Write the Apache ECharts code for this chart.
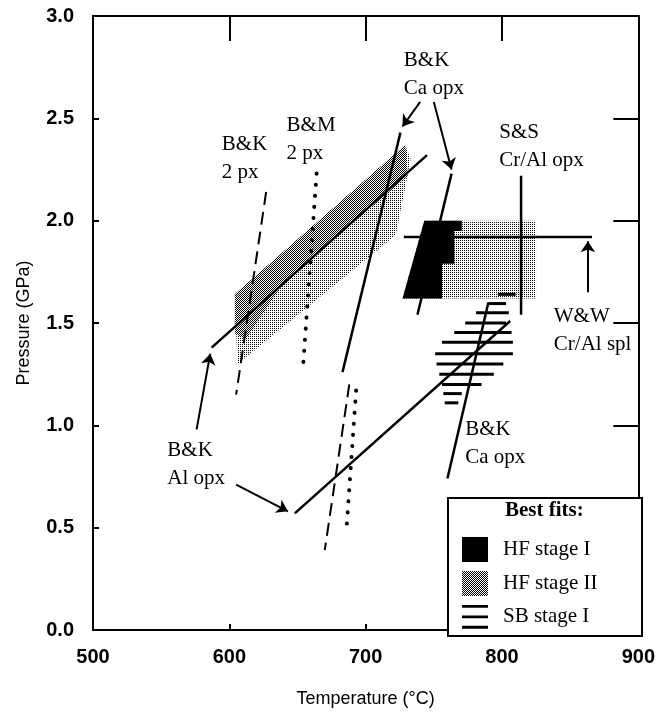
<!DOCTYPE html>
<html>
<head>
<meta charset="utf-8">
<script src="https://cdn.jsdelivr.net/npm/echarts@6/dist/echarts.min.js"></script>
<style>
  html, body { margin: 0; padding: 0; background: #fff; }
  #main { width: 658px; height: 713px; }
</style>
</head>
<body>
<div id="main"></div>
<script>
// axis ticks
const tempTicks = [500, 600, 700, 800, 900];
const pressTicks = [0, 0.5, 1, 1.5, 2, 2.5, 3];

// B&K Al opx isopleths (solid)
const alOpxHF = [[587, 1.38], [745, 2.32]];
const alOpxSB = [[648, 0.57], [806, 1.51]];
// B&K Ca opx isopleths (solid)
const caOpxHF = [[725.5, 2.43], [683, 1.26]];
const caOpxSS = [[763, 2.23], [738, 1.54]];
const caOpxSB = [[790, 1.6], [760, 0.74]];
// B&K 2 px (dashed)
const bk2pxA = [[627, 2.14], [605, 1.15]];
const bk2pxB = [[688, 1.2], [670, 0.39]];
// B&M 2 px (dotted)
const bm2pxA = [[664, 2.23], [654, 1.28]];
const bm2pxB = [[693, 1.17], [686, 0.5]];
// S&S Cr/Al opx and W&W Cr/Al spl
const ssLine = [[814, 2.22], [814, 1.54]];
const wwLine = [[728, 1.92], [866, 1.92]];

// HF stage II, diagonal band (light + dark part)
const bandLight = [[606, 1.3], [604, 1.64], [729, 2.37], [733, 2.3], [722, 1.93]];
const bandDark = [[604, 1.45], [604, 1.64], [729, 2.37], [731, 2.22], [640, 1.7], [612, 1.42]];
// HF stage II box (S&S)
const boxGray = [[743, 2.0], [825, 2.0], [825, 1.62], [727, 1.62]];
// HF stage I (black)
const boxBlack = [[743, 2.0], [770.5, 2.0], [770.5, 1.95], [765, 1.95], [765, 1.79],
  [756, 1.79], [756, 1.62], [727, 1.62]];

// SB stage I hatch: pressure, T from, T to
const sbP = [1.64, 1.595, 1.55, 1.5, 1.454, 1.406, 1.35, 1.3, 1.25, 1.2, 1.155, 1.11];
const sbTfrom = [797, 790, 781, 773, 765, 756, 751, 752, 754, 756, 757, 758];
const sbTto = [810, 803, 805, 803, 807, 808, 808, 801, 794, 785, 770.5, 768];

// arrows: [tail, head]
const arrows = [
  [[576, 0.98], [586, 1.35]],
  [[605, 0.71], [643, 0.58]],
  [[740, 2.58], [727, 2.46]],
  [[750, 2.58], [763, 2.25]],
  [[863, 1.65], [863, 1.9]]
];

// annotations (top-left corner)
const notes = [
  ['B&K\n2 px', 594.5, 2.44],
  ['B&M\n2 px', 642, 2.535],
  ['B&K\nCa opx', 728, 2.85],
  ['S&S\nCr/Al opx', 798, 2.5],
  ['W&W\nCr/Al spl', 838, 1.6],
  ['B&K\nAl opx', 554.5, 0.945],
  ['B&K\nCa opx', 773, 1.047]
];

// stipple pattern
const bayer = [[0, 8, 2, 10], [12, 4, 14, 6], [3, 11, 1, 9], [15, 7, 13, 5]];
function stipple(level) {
  const c = document.createElement('canvas');
  c.width = 4; c.height = 4;
  const g = c.getContext('2d');
  g.fillStyle = '#000';
  for (let y = 0; y < 4; y++) {
    for (let x = 0; x < 4; x++) {
      if (bayer[y][x] < level) g.fillRect(x, y, 1, 1);
    }
  }
  return { image: c, repeat: 'repeat' };
}
const lightFill = stipple(4);
const darkFill = stipple(8);

const serif = '"Liberation Serif", "DejaVu Serif", serif';
const sans = '"Liberation Sans", Arial, sans-serif';

function polygonSeries(name, pts, fill) {
  return {
    name: name,
    type: 'custom',
    coordinateSystem: 'cartesian2d',
    itemStyle: { color: fill },
    data: [pts[0]],
    renderItem(params, api) {
      return {
        type: 'polygon',
        shape: { points: pts.map(p => api.coord(p)) },
        style: { fill: fill, stroke: null }
      };
    },
    z: 1
  };
}

function lineSeries(pts, style) {
  return {
    type: 'line',
    data: pts,
    symbol: 'none',
    lineStyle: Object.assign({ color: '#000', width: 2.5 }, style),
    z: 3
  };
}

const chart = echarts.init(document.getElementById('main'));

chart.setOption({
  animation: false,
  grid: { left: 93, right: 15, top: 16, bottom: 78 },
  xAxis: [
    {
      type: 'value',
      min: tempTicks[0],
      max: tempTicks[tempTicks.length - 1],
      interval: tempTicks[1] - tempTicks[0],
      name: 'Temperature (°C)',
      nameLocation: 'middle',
      nameGap: 60,
      nameTextStyle: { fontFamily: sans, fontSize: 18, color: '#000' },
      axisLine: { onZero: false, lineStyle: { color: '#000', width: 2 } },
      axisTick: { inside: true, length: 6, lineStyle: { color: '#000', width: 2 } },
      axisLabel: { fontFamily: sans, fontSize: 20, fontWeight: 'bold', color: '#000', margin: 17 },
      splitLine: { show: false }
    },
    {
      type: 'value',
      position: 'top',
      min: tempTicks[0],
      max: tempTicks[tempTicks.length - 1],
      interval: tempTicks[1] - tempTicks[0],
      axisLine: { onZero: false, lineStyle: { color: '#000', width: 2 } },
      axisTick: { inside: true, length: 25, lineStyle: { color: '#000', width: 2 } },
      axisLabel: { show: false },
      splitLine: { show: false }
    }
  ],
  yAxis: [
    {
      type: 'value',
      min: pressTicks[0],
      max: pressTicks[pressTicks.length - 1],
      interval: pressTicks[1] - pressTicks[0],
      name: 'Pressure (GPa)',
      nameLocation: 'middle',
      nameGap: 60,
      nameTextStyle: { fontFamily: sans, fontSize: 18, color: '#000' },
      axisLine: { onZero: false, lineStyle: { color: '#000', width: 2 } },
      axisTick: { inside: true, length: 6, lineStyle: { color: '#000', width: 2 } },
      axisLabel: {
        fontFamily: sans, fontSize: 20, fontWeight: 'bold', color: '#000', margin: 19,
        formatter: v => v.toFixed(1)
      },
      splitLine: { show: false }
    },
    {
      type: 'value',
      position: 'right',
      min: pressTicks[0],
      max: pressTicks[pressTicks.length - 1],
      interval: pressTicks[1] - pressTicks[0],
      axisLine: { onZero: false, lineStyle: { color: '#000', width: 2 } },
      axisTick: { inside: true, length: 25, lineStyle: { color: '#000', width: 2 } },
      axisLabel: { show: false },
      splitLine: { show: false }
    }
  ],
  legend: {
    orient: 'vertical',
    left: 462,
    top: 537,
    itemWidth: 26,
    itemHeight: 25,
    itemGap: 9,
    padding: 0,
    selectedMode: false,
    z: 6,
    textStyle: { fontFamily: serif, fontSize: 21, color: '#000', padding: [0, 0, 0, 10] },
    data: [
      { name: 'HF stage I', icon: 'rect', itemStyle: { color: '#000' } },
      { name: 'HF stage II', icon: 'rect', itemStyle: { color: darkFill } },
      { name: 'SB stage I', icon: 'path://M0,0H10V1.1H0Z M0,4H10V5.1H0Z M0,8H10V9.1H0Z', itemStyle: { color: '#000' } }
    ]
  },
  graphic: [
    {
      type: 'rect',
      z: 5,
      shape: { x: 448, y: 498, width: 194, height: 138 },
      style: { fill: '#fff', stroke: '#000', lineWidth: 2 }
    },
    {
      type: 'text',
      z: 6,
      x: 505,
      y: 500,
      style: { text: 'Best fits:', font: 'bold 21px ' + serif, fill: '#000' }
    }
  ],
  series: [
    polygonSeries('HF stage II', bandLight, lightFill),
    polygonSeries('HF stage II', bandDark, darkFill),
    polygonSeries('HF stage II', boxGray, lightFill),
    polygonSeries('HF stage I', boxBlack, '#000'),
    {
      name: 'SB stage I',
      type: 'custom',
      itemStyle: { color: '#000' },
      data: sbP.map((p, i) => [sbTfrom[i], p, sbTto[i]]),
      renderItem(params, api) {
        const a = api.coord([api.value(0), api.value(1)]);
        const b = api.coord([api.value(2), api.value(1)]);
        return {
          type: 'line',
          shape: { x1: a[0], y1: a[1], x2: b[0], y2: b[1] },
          style: { stroke: '#000', lineWidth: 3 }
        };
      },
      z: 2
    },
    lineSeries(alOpxHF),
    lineSeries(alOpxSB),
    lineSeries(caOpxHF),
    lineSeries(caOpxSS),
    lineSeries(caOpxSB),
    lineSeries(ssLine),
    lineSeries(wwLine),
    lineSeries(bk2pxA, { type: [13, 7], width: 2 }),
    lineSeries(bk2pxB, { type: [13, 7], width: 2 }),
    lineSeries(bm2pxA, { type: [0.1, 11], width: 4, cap: 'round' }),
    lineSeries(bm2pxB, { type: [0.1, 11], width: 4, cap: 'round' }),
    {
      type: 'line',
      data: [],
      markLine: {
        silent: true,
        symbol: ['none', 'arrow'],
        symbolSize: 11,
        label: { show: false },
        lineStyle: { color: '#000', width: 2, type: 'solid' },
        data: arrows.map(a => [{ coord: a[0] }, { coord: a[1] }])
      }
    },
    {
      type: 'custom',
      data: notes.map((n, i) => [n[1], n[2], i]),
      renderItem(params, api) {
        const p = api.coord([api.value(0), api.value(1)]);
        return {
          type: 'text',
          x: p[0],
          y: p[1],
          style: {
            text: notes[api.value(2)][0],
            font: '21px ' + serif,
            lineHeight: 28,
            fill: '#000',
            align: 'left',
            verticalAlign: 'top'
          }
        };
      },
      z: 4
    }
  ]
});
</script>
</body>
</html>
